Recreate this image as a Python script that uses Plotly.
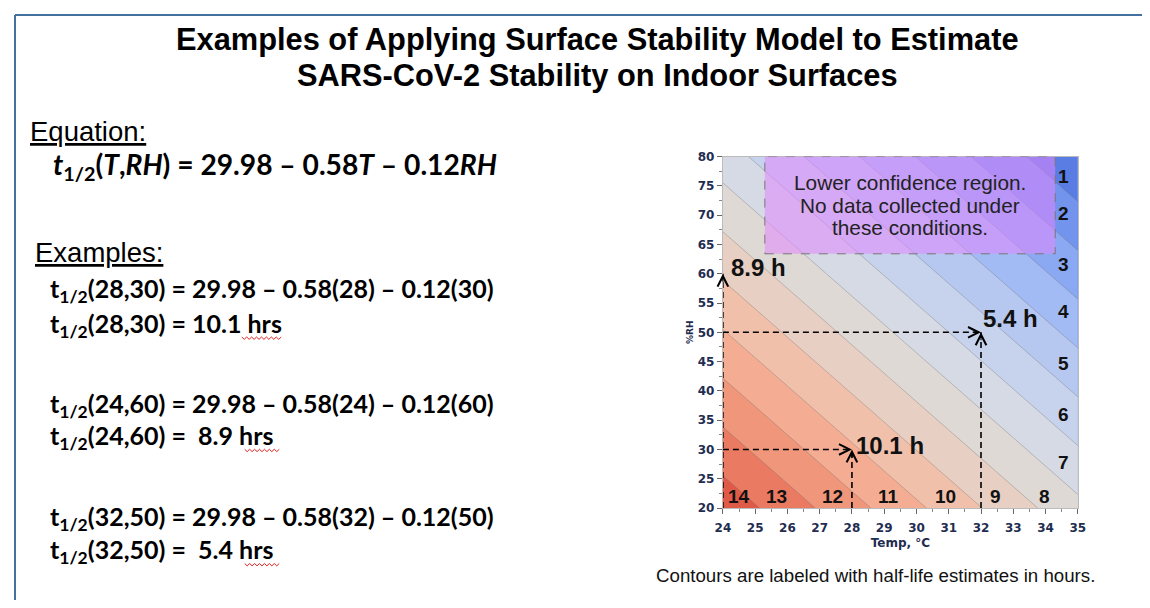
import plotly.graph_objects as go

# page is 1150x608; the figure sits inside the default 8px body margin
PAGE_W, PAGE_H, BODY_MARGIN = 1150, 608, 8
W, H = PAGE_W - 2 * BODY_MARGIN, PAGE_H - 2 * BODY_MARGIN

# ---------------- data ----------------
TITLE_LINES = ["Examples of Applying Surface Stability Model to Estimate",
               "SARS-CoV-2 Stability on Indoor Surfaces"]

# half-life surface (rows = %RH, cols = Temp)
T_GRID = [24, 29.5, 35]
RH_GRID = [20, 50, 80]
HALF_LIFE = [
    [13.66, 10.47, 7.28],
    [10.06, 6.87, 3.68],
    [6.46, 3.27, 0.08],
]
LEVEL_START, LEVEL_END, LEVEL_STEP = 0, 14, 1

# colours of bands 0-1, 1-2, ..., 13-14
BAND_COLORS = [
    "#5a7de3", "#7394ec", "#8aa9f2", "#a2bbf4", "#b6c8f0", "#c7d2ec", "#d5dae4",
    "#dfd9d5", "#e8cfc3", "#f1c0aa", "#f4ad92", "#f0967b", "#ea7a62", "#e05a48",
]

# contour labels (hours) and where they sit (Temp, %RH)
BOTTOM_LABELS = ["14", "13", "12", "11", "10", "9", "8"]
BOTTOM_LABEL_T = [24.51, 25.65, 27.39, 29.14, 30.9, 32.45, 33.98]
BOTTOM_LABEL_RH = 22.0
RIGHT_LABELS = ["1", "2", "3", "4", "5", "6", "7"]
RIGHT_LABEL_RH = [76.6, 70.2, 61.6, 53.6, 44.7, 35.9, 27.8]
RIGHT_LABEL_T = 34.55

# worked examples: (Temp, %RH, half-life label)
EX_T = [28, 24, 32]
EX_RH = [30, 60, 50]
EX_LABEL = ["10.1 h", "8.9 h", "5.4 h"]
EX_LABEL_POS = [(28.05, 30.6), (24.2, 61.0), (32.0, 52.3)]

# lower-confidence region (Temp range, %RH range)
LC_T = [25.3, 34.3]
LC_RH = [63.4, 80]
LC_LINES = ["Lower confidence region.", "No data collected under", "these conditions."]
LC_LINE_RH = [75.6, 71.6, 67.9]

X_TICKS = list(range(24, 36))
Y_TICKS = list(range(20, 81, 5))

CAPTION = "Contours are labeled with half-life estimates in hours."

# (text, left px, centre px, font, size, bold)  -- page pixel positions
LEFT_LINES = [
    ("<u>Equation:</u>", 20, 127, "Liberation Sans, Arial", 27.5, False),
    ("<i>t</i><sub>1/2</sub>(<i>T</i>,<i>RH</i>) = 29.98 \u2013 0.58<i>T</i> \u2013 0.12<i>RH</i>", 43, 163, "Lato", 28.2, True),
    ("<u>Examples:</u>", 25, 251, "Liberation Sans, Arial", 27.5, False),
    ("t<sub>1/2</sub>(28,30) = 29.98 \u2013 0.58(28) \u2013 0.12(30)", 40, 290, "Lato", 25, True),
    ("t<sub>1/2</sub>(28,30) = 10.1 hrs", 40, 325, "Lato", 25, True),
    ("t<sub>1/2</sub>(24,60) = 29.98 \u2013 0.58(24) \u2013 0.12(60)", 40, 407, "Lato", 25, True),
    ("t<sub>1/2</sub>(24,60) =  8.9 hrs", 40, 440, "Lato", 25, True),
    ("t<sub>1/2</sub>(32,50) = 29.98 \u2013 0.58(32) \u2013 0.12(50)", 40, 523, "Lato", 25, True),
    ("t<sub>1/2</sub>(32,50) =  5.4 hrs", 40, 557, "Lato", 25, True),
]
# spell-check squiggles under "hrs": (x0 px, x1 px, y px)
SQUIGGLES = [(237, 278, 339), (240, 276, 454), (240, 276, 571)]

# ---------------- layout helpers (page px -> paper) ----------------
def px(x):
    return (x - BODY_MARGIN) / W

def py(y):
    return 1 - (y - BODY_MARGIN) / H

PLOT_L, PLOT_R, PLOT_T, PLOT_B = 725, 1085, 153, 513
X_MIN, X_MAX = T_GRID[0], T_GRID[-1]
Y_MIN, Y_MAX = RH_GRID[0], RH_GRID[-1]

nc = (LEVEL_END - LEVEL_START) // LEVEL_STEP + 1
colorscale = [[0.0, BAND_COLORS[0]]]
for k, c in enumerate(BAND_COLORS):
    colorscale.append([(k + 1) / nc, c])
colorscale.append([1.0, BAND_COLORS[-1]])

fig = go.Figure()

fig.add_trace(go.Contour(
    x=T_GRID, y=RH_GRID, z=HALF_LIFE,
    autocontour=False,
    contours=dict(start=LEVEL_START, end=LEVEL_END, size=LEVEL_STEP,
                  coloring="fill", showlines=True),
    line=dict(color="rgba(110,110,110,0.5)", width=0.7),
    colorscale=colorscale, showscale=False, hoverinfo="skip",
))

# dashed guide lines for the worked examples
for t, rh in zip(EX_T, EX_RH):
    fig.add_trace(go.Scatter(x=[X_MIN, t], y=[rh, rh], mode="lines",
                             line=dict(color="black", width=1.6, dash="6px,4px"),
                             hoverinfo="skip", showlegend=False))
    fig.add_trace(go.Scatter(x=[t, t], y=[Y_MIN, rh], mode="lines",
                             line=dict(color="black", width=1.6, dash="6px,4px"),
                             hoverinfo="skip", showlegend=False))

annotations = []
# arrow heads
for t, rh in zip(EX_T, EX_RH):
    if t > X_MIN:
        annotations.append(dict(x=t, y=rh, ax=t - 0.3, ay=rh, xref="x", yref="y",
                                axref="x", ayref="y", showarrow=True, arrowhead=5,
                                arrowsize=1.9, arrowwidth=1.1, arrowcolor="black", text=""))
    annotations.append(dict(x=t, y=rh, ax=t, ay=rh - 1.6, xref="x", yref="y",
                            axref="x", ayref="y", showarrow=True, arrowhead=5,
                            arrowsize=1.9, arrowwidth=1.1, arrowcolor="black", text=""))

for lab, (lx, ly) in zip(EX_LABEL, EX_LABEL_POS):
    annotations.append(dict(x=lx, y=ly, xref="x", yref="y", text=f"<b>{lab}</b>",
                            showarrow=False, xanchor="left", yanchor="middle",
                            font=dict(family="Liberation Sans, Arial", size=24, color="#111")))

for lab, t in zip(BOTTOM_LABELS, BOTTOM_LABEL_T):
    annotations.append(dict(x=t, y=BOTTOM_LABEL_RH, xref="x", yref="y", text=f"<b>{lab}</b>",
                            showarrow=False, xanchor="center", yanchor="middle",
                            font=dict(family="Liberation Sans, Arial", size=19, color="#111")))
for lab, rh in zip(RIGHT_LABELS, RIGHT_LABEL_RH):
    annotations.append(dict(x=RIGHT_LABEL_T, y=rh, xref="x", yref="y", text=f"<b>{lab}</b>",
                            showarrow=False, xanchor="center", yanchor="middle",
                            font=dict(family="Liberation Sans, Arial", size=19, color="#111")))

for line_txt, rh in zip(LC_LINES, LC_LINE_RH):
    annotations.append(dict(x=(LC_T[0] + LC_T[1]) / 2, y=rh, xref="x", yref="y",
                            text=line_txt, showarrow=False, xanchor="center", yanchor="middle",
                            font=dict(family="Liberation Sans, Arial", size=20.8, color="#222")))

# title
for line_txt, yc in zip(TITLE_LINES, [33, 70]):
    annotations.append(dict(x=px(598), y=py(yc), xref="paper", yref="paper", text=f"<b>{line_txt}</b>",
                            showarrow=False, xanchor="center", yanchor="middle",
                            font=dict(family="Liberation Sans, Arial", size=30.8, color="black")))
# caption
annotations.append(dict(x=px(880), y=py(582), xref="paper", yref="paper", text=CAPTION,
                        showarrow=False, xanchor="center", yanchor="middle",
                        font=dict(family="Liberation Sans, Arial", size=18.7, color="#111")))
# left text
for txt, x0, y0, fam, size, bold in LEFT_LINES:
    t = f"<b>{txt}</b>" if bold else txt
    annotations.append(dict(x=px(x0), y=py(y0), xref="paper", yref="paper", text=t,
                            showarrow=False, xanchor="left", yanchor="middle",
                            font=dict(family=fam, size=size, color="black")))

shapes = [
    dict(type="rect", xref="x", yref="y", x0=LC_T[0], x1=LC_T[1], y0=LC_RH[0], y1=LC_RH[1],
         fillcolor="rgba(225,135,255,0.55)", line=dict(color="#777", width=1, dash="dash"),
         layer="above"),
    # slide border
    dict(type="line", xref="paper", yref="paper", x0=px(7), x1=px(PAGE_W + 8), y0=py(8), y1=py(8),
         line=dict(color="#41719c", width=2)),
    dict(type="line", xref="paper", yref="paper", x0=px(7), x1=px(7), y0=py(PAGE_H + 8), y1=py(8),
         line=dict(color="#41719c", width=2)),
]

# red spell-check squiggles
for x0, x1, yy in SQUIGGLES:
    pts = []
    x = x0
    up = True
    while x <= x1:
        pts.append(f"{px(x):.5f},{py(yy - (1.2 if up else -1.2)):.5f}")
        up = not up
        x += 2.5
    shapes.append(dict(type="path", xref="paper", yref="paper", path="M" + "L".join(pts),
                       line=dict(color="#e02020", width=1)))

tickfont = dict(family="DejaVu Sans", size=12, color="#1f2d50", weight="bold")

fig.update_layout(
    width=W, height=H, margin=dict(l=0, r=0, t=0, b=0),
    paper_bgcolor="white", plot_bgcolor="white",
    showlegend=False,
    annotations=annotations, shapes=shapes,
    xaxis=dict(domain=[px(PLOT_L), px(PLOT_R)], range=[X_MIN, X_MAX], tickvals=X_TICKS,
               ticks="outside", ticklen=5, tickcolor="#666", tickfont=tickfont,
               ticklabelstandoff=4,
               showgrid=False, zeroline=False, showline=True, linecolor="#bbb", mirror=True,
               minor=dict(ticks="outside", ticklen=3, dtick=0.5, tickcolor="#888"),
               title=dict(text="Temp, °C",
                          font=dict(family="DejaVu Sans", size=12, color="#1f2d50", weight="bold"),
                          standoff=4)),
    yaxis=dict(domain=[py(PLOT_B), py(PLOT_T)], range=[Y_MIN, Y_MAX], tickvals=Y_TICKS,
               ticks="outside", ticklen=5, tickcolor="#666", tickfont=tickfont,
               showgrid=False, zeroline=False, showline=True, linecolor="#bbb", mirror=True,
               minor=dict(ticks="outside", ticklen=3, dtick=2.5, tickcolor="#888"),
               title=dict(text="%RH",
                          font=dict(family="DejaVu Sans", size=9, color="#1f2d50", weight="bold"),
                          standoff=2)),
)

fig.write_html("out.html", config={"displayModeBar": False})
